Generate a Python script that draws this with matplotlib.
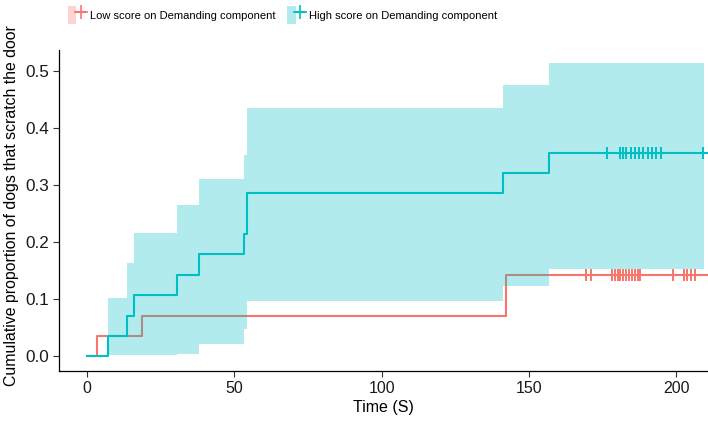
import matplotlib
matplotlib.use("Agg")
import matplotlib.pyplot as plt
from matplotlib.patches import Patch
from matplotlib.lines import Line2D
from matplotlib.legend_handler import HandlerTuple
from matplotlib import font_manager as fm

# ---------------- data ----------------
times_low = [0, 3.4, 18.5, 142.2, 210.8]
est_low = [0, 0.036, 0.071, 0.143, 0.143]
censor_low = [169.4, 171.0, 178.2, 179.2, 180.0, 180.9, 181.9, 182.9, 183.9,
              185.0, 186.0, 187.0, 187.7, 198.8, 202.6, 203.7, 205.0, 206.2]

times_high = [0, 7.0, 13.7, 15.9, 30.4, 37.9, 53.2, 54.2, 141.2, 156.8, 209.4]
est_high = [0, 0.036, 0.071, 0.107, 0.143, 0.179, 0.214, 0.286, 0.321, 0.357, 0.357]
upper_high = [0, 0.102, 0.164, 0.216, 0.265, 0.311, 0.353, 0.436, 0.476, 0.514, 0.514]
lower_high = [0, 0.002, 0.002, 0.002, 0.004, 0.022, 0.048, 0.098, 0.124, 0.153, 0.153]
censor_high = [176.6, 181.0, 181.8, 183.0, 184.5, 185.8, 187.2, 188.7, 190.3,
               191.6, 193.1, 194.7, 209.0]

labels = ["Low score on Demanding component", "High score on Demanding component"]
xticks = [0, 50, 100, 150, 200]
yticks = [0.0, 0.1, 0.2, 0.3, 0.4, 0.5]

RED = "#F8766D"
CYAN = "#00BFC4"

avail = {f.name for f in fm.fontManager.ttflist}
REG = "Liberation Sans" if "Liberation Sans" in avail else "DejaVu Sans"
NARROW = "Liberation Sans Narrow" if "Liberation Sans Narrow" in avail else REG
leg_fs = 9.0 if NARROW != REG else 8.0
xl_fs = 12.5 if NARROW != REG else 11.5

plt.rcParams["font.family"] = [REG, "DejaVu Sans"]

fig = plt.figure(figsize=(7.08, 4.22), dpi=100)
ax = fig.add_axes([59 / 708, 1 - 371 / 422, 1 - 59 / 708, (371 - 49.8) / 422])

# low score line (drawn under the ribbon)
ax.step(times_low, est_low, where="post", color=RED, lw=1.5, zorder=2)
ax.plot(censor_low, [est_low[-1]] * len(censor_low), ls="none", marker="+",
        ms=8, mew=1.4, color=RED, zorder=2)

# high score ribbon + line
ax.fill_between(times_high, lower_high, upper_high, step="post",
                color=CYAN, alpha=0.3, lw=0, zorder=3)
ext_t = times_high + [210.8]
ext_e = est_high + [est_high[-1]]
ax.step(ext_t, ext_e, where="post", color=CYAN, lw=1.5, zorder=4)
ax.plot(censor_high, [est_high[-1]] * len(censor_high), ls="none", marker="+",
        ms=8, mew=1.4, color=CYAN, zorder=4)

ax.set_xlim(-9.5, 210.7)
ax.set_ylim(-0.0256, 0.5376)
ax.set_xticks(xticks)
ax.set_yticks(yticks)
ax.set_xticklabels([str(v) for v in xticks], fontsize=11.5)
ax.set_yticklabels([f"{v:.1f}" for v in yticks], fontsize=12.3)
ax.tick_params(length=4, width=0.8, color="#333333", labelcolor="#1a1a1a", pad=3)
for s in ["top", "right"]:
    ax.spines[s].set_visible(False)
for s in ["left", "bottom"]:
    ax.spines[s].set_linewidth(0.9)
    ax.spines[s].set_color("black")

ax.set_xlabel("Time (S)", fontsize=xl_fs, family=NARROW, labelpad=3)
ax.set_ylabel("Cumulative proportion of dogs that scratch the door",
              fontsize=11.4)
ax.yaxis.set_label_coords(-40 / 649, 0.514)

handles = []
for c in (RED, CYAN):
    handles.append((Patch(facecolor=c, alpha=0.3, edgecolor="none"),
                    Line2D([], [], color=c, lw=1.5, marker="+", ms=10, mew=1.2)))
fig.legend(handles, labels, handler_map={tuple: HandlerTuple(ndivide=None, pad=0)},
           loc="center left", bbox_to_anchor=(68 / 708, 1 - 15 / 422), ncol=2,
           frameon=False, prop={"family": NARROW, "size": leg_fs},
           borderpad=0, borderaxespad=0, handlelength=1.5, handleheight=2.0,
           handletextpad=0.45, columnspacing=1.1)

fig.savefig("out.png", dpi=100)
